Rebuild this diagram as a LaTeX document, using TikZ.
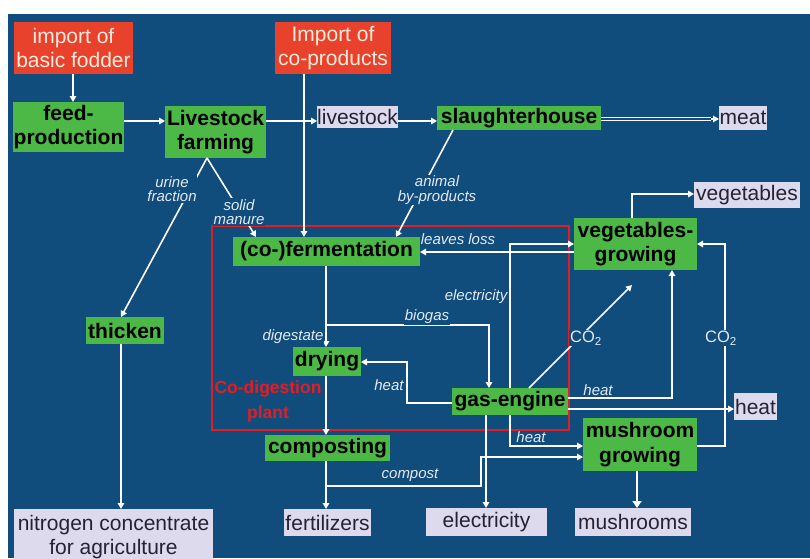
\documentclass[tikz,border=0pt]{standalone}
\usepackage{fontspec}
\setmainfont{Liberation Sans}
\usetikzlibrary{arrows.meta}
\definecolor{bg}{RGB}{16,76,124}
\definecolor{gboxc}{RGB}{76,184,70}
\definecolor{rboxc}{RGB}{232,66,44}
\definecolor{lboxc}{RGB}{222,218,238}
\definecolor{plantred}{RGB}{226,30,36}
\definecolor{cream}{RGB}{252,236,222}
\definecolor{ltext}{RGB}{35,35,50}
\definecolor{lbltxt}{RGB}{228,234,244}
\begin{document}
\begin{tikzpicture}[x=1pt,y=-1pt,
 every node/.style={inner sep=0pt,outer sep=0pt,align=center},
 greenbox/.style={fill=gboxc,text=black,font=\bfseries\fontsize{21}{24.5}\selectfont},
 redbox/.style={fill=rboxc,text=cream,font=\fontsize{21}{24}\selectfont},
 lavbox/.style={fill=lboxc,text=ltext,font=\fontsize{21}{24.5}\selectfont},
 lbl/.style={fill=bg,text=lbltxt,font=\itshape\fontsize{15}{14.5}\selectfont,inner sep=0.8pt},
 co2/.style={fill=bg,text=lbltxt,font=\fontsize{16.5}{17}\selectfont,inner sep=0.8pt},
 conn/.style={draw=white,line width=1.6pt,-{Triangle[length=6pt,width=6.5pt]}},
]
\useasboundingbox (0,0) rectangle (810,558);
\fill[white] (0,0) rectangle (810,558);
\fill[bg] (8,14) rectangle (810,558);
\draw[plantred,line width=1.6pt] (212,226) rectangle (569,430);

% boxes
\node[redbox,minimum width=119,minimum height=52] (fodder) at (73.5,48) {import of\\basic fodder};
\node[redbox,minimum width=116,minimum height=52] (coprod) at (333,48) {Import of\\co-products};
\node[greenbox,minimum width=111,minimum height=50] (feed) at (68.5,127) {feed-\\production};
\node[greenbox,minimum width=101,minimum height=52] (farming) at (215.5,132) {Livestock\\farming};
\node[lavbox,minimum width=81,minimum height=22] (livestock) at (357.5,117) {livestock};
\node[greenbox,minimum width=164,minimum height=24] (slaughter) at (519,118) {slaughterhouse};
\node[lavbox,minimum width=48,minimum height=24] (meat) at (743,118) {meat};
\node[lavbox,minimum width=106,minimum height=26] (vegetables) at (747,195) {vegetables};
\node[greenbox,minimum width=123,minimum height=52] (veggrow) at (635.5,244) {vegetables-\\growing};
\node[greenbox,minimum width=187,minimum height=29] (ferm) at (326.5,251.5) {(co-)fermentation};
\node[greenbox,minimum width=78,minimum height=27] (thicken) at (125,330.5) {thicken};
\node[greenbox,minimum width=68,minimum height=29] (drying) at (327,361.5) {drying};
\node[greenbox,minimum width=116,minimum height=27] (gas) at (510,401.5) {gas-engine};
\node[greenbox,minimum width=125,minimum height=26] (composting) at (327.5,448) {composting};
\node[greenbox,minimum width=114,minimum height=53] (mushroom) at (640,444.5) {mushroom\\growing};
\node[lavbox,minimum width=43,minimum height=27] (heatbox) at (755.5,406.5) {heat};
\node[lavbox,minimum width=199,minimum height=56] (nitrogen) at (113.5,537) {nitrogen concentrate\\for agriculture};
\node[lavbox,minimum width=87,minimum height=27] (fertilizers) at (327.5,522.5) {fertilizers};
\node[lavbox,minimum width=121,minimum height=28] (electricity) at (486.5,522) {electricity};
\node[lavbox,minimum width=116,minimum height=28] (mushrooms) at (633,522) {mushrooms};
\node[font=\bfseries\fontsize{17.5}{25}\selectfont,text=plantred] (plant) at (268,401) {Co-digestion\\plant};

% helper coordinates
\coordinate (x73) at (73,0);
\coordinate (y121) at (0,121);
\coordinate (y119) at (0,119);
\coordinate (m1) at (711,119);
\coordinate (x304) at (304,0);
\coordinate (sa) at (453,130);
\coordinate (sb) at (396,237);
\coordinate (apex) at (207,158);
\coordinate (x121) at (121,0);
\coordinate (x256) at (256,0);
\coordinate (x326) at (326,0);
\coordinate (bg1) at (326,325);
\coordinate (x489) at (489,0);
\coordinate (x407) at (407,0);
\coordinate (y403) at (0,403);
\coordinate (y362) at (0,362);
\coordinate (cp1) at (326,486);
\coordinate (x481) at (481,0);
\coordinate (y457) at (0,457);
\coordinate (x486) at (486,0);
\coordinate (y409) at (0,409);
\coordinate (y398) at (0,398);
\coordinate (x672) at (672,0);
\coordinate (c1) at (529,388);
\coordinate (c2) at (632,285);
\coordinate (y244) at (0,244);
\coordinate (y446) at (0,446);
\coordinate (y252) at (0,252);
\coordinate (x632) at (632,0);
\coordinate (y194) at (0,194);
\coordinate (x725) at (725,0);
\coordinate (x637) at (637,0);

% connectors
\draw[conn] (fodder.south -| x73) -- (feed.north -| x73);
\draw[conn] (feed.east |- y121) -- (farming.west |- y121);
\draw[conn] (farming.east |- y121) -- (livestock.west |- y121);
\draw[conn] (livestock.east |- y121) -- (slaughter.west |- y121);
\draw[draw=white,double=bg,double distance=1.6pt,line width=1.2pt] (slaughter.east |- y119) -- (m1);
\draw[conn] (m1) -- (meat.west |- y119);
\draw[conn] (coprod.south -| x304) -- (ferm.north -| x304);
\draw[conn] (sa) -- (sb);
\draw[conn] (apex) -- (thicken.north -| x121);
\draw[conn] (apex) -- (ferm.north -| x256);
\draw[conn] (thicken.south -| x121) -- (nitrogen.north -| x121);
\draw[conn] (ferm.south -| x326) -- (drying.north -| x326);
\draw[conn] (bg1) -| (gas.north -| x489);
\draw[conn] (gas.west |- y403) -| (x407 |- y362) -- (drying.east |- y362);
\draw[conn] (drying.south -| x326) -- (composting.north -| x326);
\draw[conn] (composting.south -| x326) -- (fertilizers.north -| x326);
\draw[conn] (cp1) -| (x481 |- y457) -- (mushroom.west |- y457);
\draw[conn] (gas.south -| x486) -- (electricity.north -| x486);
\draw[conn] (gas.east |- y409) -- (heatbox.west |- y409);
\draw[conn] (gas.east |- y398) -| (veggrow.south -| x672);
\draw[conn] (c1) -- (c2);
\draw[conn] (gas.north) |- (veggrow.west |- y244);
\draw[conn] (gas.south) |- (mushroom.west |- y446);
\draw[conn] (veggrow.west |- y252) -- (ferm.east |- y252);
\draw[conn] (veggrow.north -| x632) |- (vegetables.west |- y194);
\draw[conn] (mushroom.east |- y446) -| (x725 |- y244) -- (veggrow.east |- y244);
\draw[conn,line width=2.6pt,-{Triangle[length=7pt,width=9pt]}] (mushroom.south -| x637) -- (mushrooms.north -| x637);

% labels
\node[lbl] (lanimal) at (437,190) {animal\\by-products};
\node[lbl] (lurine) at (172,189) {urine\\fraction};
\node[lbl] (lsolid) at (239,212) {solid\\manure};
\node[lbl] (lleaves) at (458,239) {leaves loss};
\node[lbl] (lelec) at (476,297) {electricity};
\node[lbl] (lbiogas) at (427,317) {biogas};
\node[lbl] (ldig) at (293,337) {digestate};
\node[lbl] (lheat1) at (389,385) {heat};
\node[lbl] (lheat2) at (598,390) {heat};
\node[lbl] (lheat3) at (531,437) {heat};
\node[lbl] (lcompost) at (410,475) {compost};
\node[co2] (lco2a) at (586,338) {CO\textsubscript{2}};
\node[co2] (lco2b) at (721,338) {CO\textsubscript{2}};
\end{tikzpicture}
\end{document}
